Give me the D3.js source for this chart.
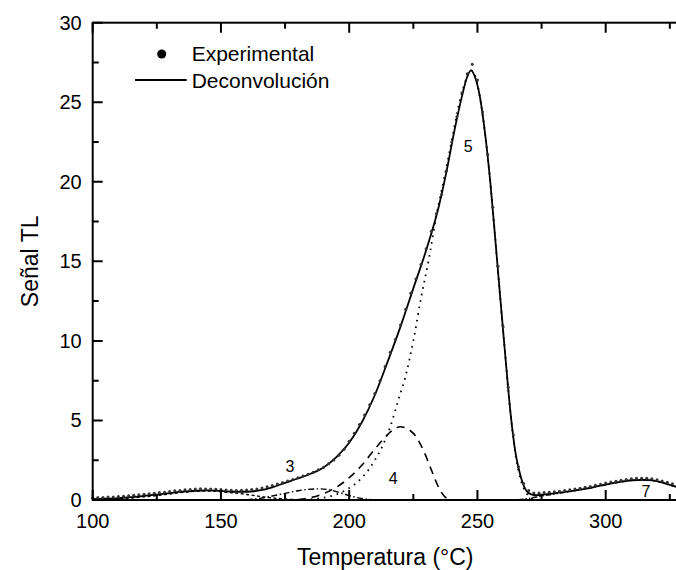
<!DOCTYPE html>
<html>
  <head>
    <style>
      body { margin: 0; background: #fff; }
      text { font-family: "Liberation Sans", Arial, sans-serif; fill: #000; }
      .frame { fill: none; stroke: #000; stroke-width: 2; }
      .tick-label { font-size: 20px; }
      .axis-title { font-size: 23px; text-anchor: middle; }
      .legend-text { font-size: 21px; }
      .peak-label { font-size: 16px; text-anchor: middle; }
    </style>
  </head>
  <body>
    <div id="chart"></div>
    <script src="https://d3js.org/d3.v7.min.js"></script>
    <script>
      // experimental points (T, signal)
      const expTemps = d3.range(100, 329, 2);
      const expValues = [
        0.05, 0.06, 0.07, 0.09, 0.1, 0.12, 0.14, 0.17, 0.2, 0.23,
        0.26, 0.3, 0.33, 0.37, 0.4, 0.44, 0.48, 0.51, 0.55, 0.57,
        0.59, 0.61, 0.6, 0.6, 0.58, 0.56, 0.54, 0.52, 0.5, 0.52,
        0.53, 0.56, 0.6, 0.66, 0.74, 0.82, 0.91, 1.0, 1.1, 1.2,
        1.31, 1.42, 1.53, 1.65, 1.8, 1.97, 2.18, 2.42, 2.72, 3.1,
        3.6, 4.1, 4.65, 5.25, 5.9, 6.6, 7.4, 8.3, 9.2, 10.0,
        10.9, 11.9, 12.9, 13.8, 14.7, 15.7, 16.8, 17.9, 19.1, 20.6,
        22.4, 24.0, 25.5, 26.7, 27.3, 26.3, 24.3, 21.6, 18.3, 14.6,
        10.8, 7.0, 4.0, 2.0, 0.95, 0.5, 0.35, 0.35, 0.37, 0.4,
        0.42, 0.45, 0.5, 0.55, 0.6, 0.65, 0.7, 0.76, 0.83, 0.9,
        0.97, 1.03, 1.09, 1.15, 1.2, 1.24, 1.27, 1.28, 1.27, 1.24,
        1.18, 1.1, 1.02, 0.92, 0.82
      ];

      // deconvolution (sum of peaks)
      const fitTemps = [100, 105, 110, 115, 120, 125, 130, 135, 140, 145, 150, 155, 160, 165, 170, 175, 180, 185, 190, 195,
        200, 205, 210, 215, 220, 225, 230, 235, 238, 241, 244, 246, 247.5, 249, 251, 253, 255, 257, 259, 261,
        263, 265, 267, 269, 271, 273, 276, 280, 285, 290, 295, 300, 305, 310, 315, 320, 325, 328];
      const fitValues = [0.05, 0.08, 0.12, 0.18, 0.26, 0.34, 0.43, 0.52, 0.58, 0.6, 0.57, 0.52, 0.52, 0.6, 0.8, 1.08, 1.35, 1.65, 2.05, 2.7,
        3.6, 4.9, 6.6, 8.7, 10.9, 13.3, 15.7, 18.5, 20.7, 23.2, 25.4, 26.6, 27.0, 26.6, 25.3, 23.0, 20.0, 16.3, 12.5, 8.8,
        5.3, 2.8, 1.4, 0.6, 0.35, 0.3, 0.35, 0.42, 0.52, 0.65, 0.8, 0.97, 1.12, 1.24, 1.27, 1.18, 0.95, 0.8];

      // individual peaks
      const peak2Temps = [100, 105, 110, 115, 120, 125, 130, 135, 140, 145, 150, 155, 160, 165, 170, 175, 180];
      const peak2Values = [0.03, 0.05, 0.08, 0.13, 0.2, 0.28, 0.38, 0.48, 0.55, 0.56, 0.52, 0.45, 0.35, 0.23, 0.13, 0.06, 0.02];
      const peak3Temps = [160, 165, 170, 175, 180, 185, 188, 192, 196, 200, 204, 208, 212];
      const peak3Values = [0.02, 0.1, 0.25, 0.42, 0.58, 0.68, 0.7, 0.65, 0.48, 0.28, 0.12, 0.04, 0.01];
      const peak4Temps = [180, 185, 190, 195, 200, 205, 210, 214, 217, 220, 223, 226, 229, 232, 235, 237, 239];
      const peak4Values = [0.03, 0.15, 0.4, 0.8, 1.4, 2.2, 3.2, 3.95, 4.4, 4.6, 4.45, 4.0, 3.1, 1.9, 0.75, 0.25, 0.02];
      const peak5Temps = [185, 190, 195, 200, 205, 210, 213, 216, 219, 222, 225, 228, 231, 234, 237, 240, 243, 246, 247.5,
        249, 251, 253, 255, 257, 259, 261, 263, 265, 267, 269, 271, 273];
      const peak5Values = [0.05, 0.15, 0.35, 0.75, 1.4, 2.5, 3.4, 4.6, 6.2, 7.8, 10.0, 12.7, 15.1, 17.9, 20.2, 22.6, 25.0, 26.6, 27.0,
        26.7, 25.3, 23.0, 20.0, 16.3, 12.5, 8.8, 5.3, 2.7, 1.2, 0.45, 0.12, 0.02];
      const peak7Temps = [266, 270, 275, 280, 285, 290, 295, 300, 305, 310, 315, 320, 325, 328];
      const peak7Values = [0.02, 0.1, 0.25, 0.38, 0.5, 0.64, 0.79, 0.96, 1.11, 1.23, 1.26, 1.17, 0.94, 0.79];

      const peakLabels = ["3", "4", "5", "7"];
      const peakLabelTemps = [176.9, 217.2, 246.4, 315.7];
      const peakLabelValues = [2.1, 1.36, 22.2, 0.52];

      const xTicks = [100, 150, 200, 250, 300];
      const yTicks = [0, 5, 10, 15, 20, 25, 30];

      const margin = { top: 22.7, left: 92.7 };
      const width = 585;
      const height = 477.3;

      const svg = d3.select("#chart").append("svg")
        .attr("width", 676)
        .attr("height", 570);
      const g = svg.append("g")
        .attr("transform", "translate(" + margin.left + "," + margin.top + ")");

      const x = d3.scaleLinear().domain([100, 100 + width / 2.565]).range([0, width]);
      const y = d3.scaleLinear().domain([0, 30]).range([height, 0]);

      const toPts = (ts, vs) => ts.map((t, i) => [t, vs[i]]);
      const line = d3.line()
        .x((d) => x(d[0]))
        .y((d) => y(d[1]))
        .curve(d3.curveMonotoneX);

      // component peaks
      const peaks = [
        { pts: toPts(peak2Temps, peak2Values), dash: "3,2.5", w: 1.4 },
        { pts: toPts(peak3Temps, peak3Values), dash: "6,2.5,1.5,2.5", w: 1.4 },
        { pts: toPts(peak4Temps, peak4Values), dash: "8,6", w: 1.6 },
        { pts: toPts(peak5Temps, peak5Values), dash: "1.6,5", w: 1.8 },
        { pts: toPts(peak7Temps, peak7Values), dash: "5,2,1.5,2,1.5,2", w: 1.4 }
      ];
      peaks.forEach((p) => {
        g.append("path")
          .datum(p.pts)
          .attr("d", line)
          .attr("fill", "none")
          .attr("stroke", "#000")
          .attr("stroke-width", p.w)
          .attr("stroke-dasharray", p.dash);
      });

      // deconvolution
      g.append("path")
        .datum(toPts(fitTemps, fitValues))
        .attr("d", line)
        .attr("fill", "none")
        .attr("stroke", "#000")
        .attr("stroke-width", 1.8);

      // experimental points
      g.selectAll(".exp")
        .data(toPts(expTemps, expValues))
        .enter()
        .append("circle")
        .attr("class", "exp")
        .attr("cx", (d) => x(d[0]))
        .attr("cy", (d) => y(d[1]) - 1.5)
        .attr("r", 1.5)
        .attr("fill", "#333");

      // peak numbers
      g.selectAll(".peak-label")
        .data(peakLabels)
        .enter()
        .append("text")
        .attr("class", "peak-label")
        .attr("x", (d, i) => x(peakLabelTemps[i]))
        .attr("y", (d, i) => y(peakLabelValues[i]))
        .attr("dy", "0.35em")
        .text((d) => d);

      // frame and ticks (inward)
      g.append("rect").attr("class", "frame")
        .attr("x", 0).attr("y", 0).attr("width", width).attr("height", height);

      const xMinor = d3.range(125, 330, 50);
      const yMinor = d3.range(2.5, 30, 5);
      const tickPath = [];
      xTicks.forEach((t) => {
        tickPath.push("M" + x(t) + "," + height + "v-10", "M" + x(t) + ",0v10");
      });
      xMinor.forEach((t) => {
        tickPath.push("M" + x(t) + "," + height + "v-6", "M" + x(t) + ",0v6");
      });
      yTicks.forEach((v) => tickPath.push("M0," + y(v) + "h10"));
      yMinor.forEach((v) => tickPath.push("M0," + y(v) + "h6"));
      g.append("path")
        .attr("d", tickPath.join(""))
        .attr("stroke", "#000")
        .attr("stroke-width", 2);

      g.selectAll(".xl")
        .data(xTicks)
        .enter()
        .append("text")
        .attr("class", "tick-label")
        .attr("text-anchor", "middle")
        .attr("x", (d) => x(d))
        .attr("y", height + 28)
        .text((d) => d);

      g.selectAll(".yl")
        .data(yTicks)
        .enter()
        .append("text")
        .attr("class", "tick-label")
        .attr("text-anchor", "end")
        .attr("x", -11)
        .attr("y", (d) => y(d))
        .attr("dy", "0.35em")
        .text((d) => d);

      // axis titles
      svg.append("text")
        .attr("class", "axis-title")
        .attr("x", margin.left + width / 2)
        .attr("y", 565)
        .text("Temperatura (°C)");

      svg.append("text")
        .attr("class", "axis-title")
        .attr("transform", "translate(38," + (margin.top + height / 2) + ") rotate(-90)")
        .text("Señal TL");

      // legend
      svg.append("circle")
        .attr("cx", 161.7).attr("cy", 54)
        .attr("r", 4.5).attr("fill", "#000");
      svg.append("text")
        .attr("class", "legend-text")
        .attr("x", 191.7).attr("y", 60.5)
        .text("Experimental");
      svg.append("line")
        .attr("x1", 135).attr("x2", 186.7)
        .attr("y1", 80).attr("y2", 80)
        .attr("stroke", "#000").attr("stroke-width", 1.8);
      svg.append("text")
        .attr("class", "legend-text")
        .attr("x", 191.7).attr("y", 87.5)
        .text("Deconvolución");
    </script>
  </body>
</html>
